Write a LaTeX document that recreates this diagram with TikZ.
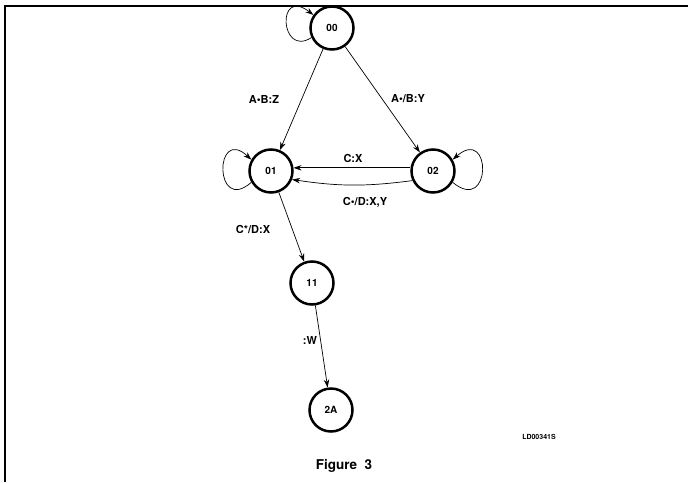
\documentclass[tikz,border=0pt]{standalone}
\usepackage{fontspec}
\setmainfont{TeX Gyre Heros}
\usetikzlibrary{arrows.meta}
\begin{document}
\begin{tikzpicture}[x=1pt,y=-1pt,
  state/.style={circle,draw,line width=2.5pt,minimum size=43pt,inner sep=0pt,font=\bfseries\fontsize{10}{11}\selectfont},
  lbl/.style={font=\bfseries\fontsize{11}{12}\selectfont,inner sep=1pt},
  arr/.style={-{Stealth[length=8pt,width=5.5pt]},line width=0.7pt}]
\useasboundingbox (0,0) rectangle (688,482);
\draw[line width=2pt] (5,482) -- (5,6) -- (688,6);
\node[state] (s00) at (332,28) {00};
\node[state] (s01) at (271,171) {01};
\node[state] (s02) at (433,171) {02};
\node[state] (s11) at (312,283) {11};
\node[state] (s2A) at (331,410) {2A};
% self loops
\draw[arr] (s00.205) .. controls (280,58) and (276,-14) .. (s00.145);
\draw[arr] (s01.210) .. controls (214,215) and (214,125) .. (s01.150);
\draw[arr] (s02.-30) .. controls (492,215) and (492,125) .. (s02.30);
% transitions
\draw[arr] (s00) -- (s01);
\draw[arr] (s00) -- (s02);
\draw[arr] (s02.172) -- (s01.8);
\draw[arr] (s02.205) to[bend left=8] (s01.-22);
\draw[arr] (s01) -- (s11);
\draw[arr] (s11) -- (s2A);
% labels
\node[lbl] (lA) at (264,99) {A\textbullet B:Z};
\node[lbl] (lB) at (408,99) {A\textbullet/B:Y};
\node[lbl] (lC) at (353,158) {C:X};
\node[lbl] (lD) at (365,202) {C\textbullet/D:X,Y};
\node[lbl] (lE) at (253,229) {C*/D:X};
\node[lbl] (lW) at (310,340) {:W};
\node[font=\bfseries\fontsize{7}{8}\selectfont] (code) at (539,437) {LD00341S};
\node[font=\bfseries\fontsize{13.5}{16}\selectfont] (fig) at (344,466) {Figure\ \ 3};
\end{tikzpicture}
\end{document}
